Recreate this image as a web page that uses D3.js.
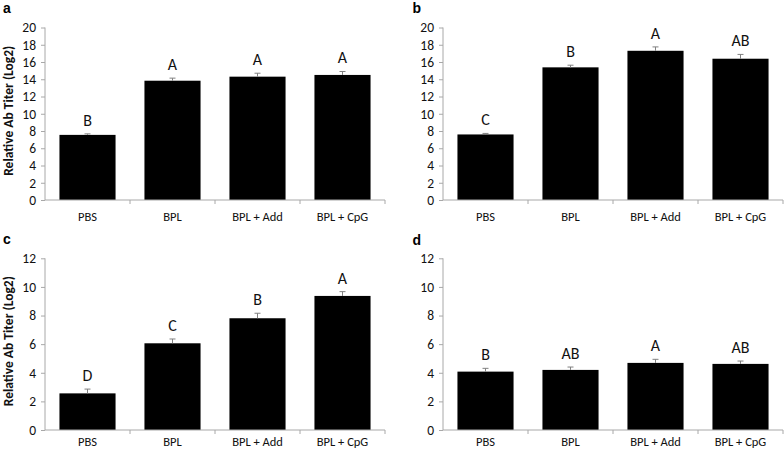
<!DOCTYPE html>
<html>
<head>
<meta charset="utf-8">
<script src="https://cdn.jsdelivr.net/npm/d3@7"></script>
<style>
  html, body { margin: 0; padding: 0; background: #fff; }
  svg { display: block; }
</style>
</head>
<body>
<svg id="chart" width="784" height="454"></svg>
<script>
const categories = ["PBS", "BPL", "BPL + Add", "BPL + CpG"];

const panelNames = ["a", "b", "c", "d"];

const meansA = [7.55, 13.83, 14.3, 14.5];
const errA = [0.12, 0.3, 0.4, 0.4];
const lettersA = ["B", "A", "A", "A"];

const meansB = [7.6, 15.38, 17.3, 16.38];
const errB = [0.12, 0.25, 0.45, 0.5];
const lettersB = ["C", "B", "A", "AB"];

const meansC = [2.56, 6.06, 7.81, 9.37];
const errC = [0.3, 0.3, 0.35, 0.3];
const lettersC = ["D", "C", "B", "A"];

const meansD = [4.08, 4.2, 4.69, 4.62];
const errD = [0.23, 0.2, 0.25, 0.2];
const lettersD = ["B", "AB", "A", "AB"];

const yTicksTop = [0, 2, 4, 6, 8, 10, 12, 14, 16, 18, 20];
const yTicksBottom = [0, 2, 4, 6, 8, 10, 12];

const yTitle = "Relative Ab Titer (Log2)";

const svg = d3.select("#chart");
const FONT = "Carlito, Lato, 'Open Sans', sans-serif";
const AXIS_COLOR = "#a8a8a8";
const ERR_COLOR = "#808080";

const panels = [
  { name: panelNames[0], means: meansA, err: errA, letters: lettersA, ticks: yTicksTop,
    x0: 45, x1: 385, yTop: 27.5, yBot: 200, labelPad: 12, title: true, nameX: 3, nameY: 12.5 },
  { name: panelNames[1], means: meansB, err: errB, letters: lettersB, ticks: yTicksTop,
    x0: 443, x1: 783, yTop: 27.5, yBot: 200, labelPad: 12, title: false, nameX: 412.5, nameY: 13 },
  { name: panelNames[2], means: meansC, err: errC, letters: lettersC, ticks: yTicksBottom,
    x0: 45, x1: 385, yTop: 258.3, yBot: 430, labelPad: 7.5, title: true, nameX: 3, nameY: 244 },
  { name: panelNames[3], means: meansD, err: errD, letters: lettersD, ticks: yTicksBottom,
    x0: 443, x1: 783, yTop: 258.3, yBot: 430, labelPad: 7.5, title: false, nameX: 412.5, nameY: 245 }
];

panels.forEach(p => {
  const g = svg.append("g");
  const x = d3.scaleBand().domain(categories).range([p.x0, p.x1]).padding(0);
  const y = d3.scaleLinear().domain([0, d3.max(p.ticks)]).range([p.yBot, p.yTop]);
  const bw = x.bandwidth();
  const barW = bw * 0.66;

  // bars
  g.selectAll("rect.bar").data(categories).join("rect")
    .attr("x", c => x(c) + (bw - barW) / 2)
    .attr("width", barW)
    .attr("y", (c, i) => y(p.means[i]))
    .attr("height", (c, i) => y(0) - y(p.means[i]))
    .attr("fill", "#000");

  // error bars (upper)
  const eg = g.selectAll("g.err").data(categories).join("g");
  eg.append("line")
    .attr("x1", c => x(c) + bw / 2).attr("x2", c => x(c) + bw / 2)
    .attr("y1", (c, i) => y(p.means[i])).attr("y2", (c, i) => y(p.means[i] + p.err[i]))
    .attr("stroke", ERR_COLOR).attr("stroke-width", 1);
  eg.append("line")
    .attr("x1", c => x(c) + bw / 2 - 3).attr("x2", c => x(c) + bw / 2 + 3)
    .attr("y1", (c, i) => y(p.means[i] + p.err[i])).attr("y2", (c, i) => y(p.means[i] + p.err[i]))
    .attr("stroke", ERR_COLOR).attr("stroke-width", 1);

  // significance letters
  g.selectAll("text.sig").data(categories).join("text")
    .attr("x", c => x(c) + bw / 2)
    .attr("y", (c, i) => y(p.means[i] + p.err[i]) - 8)
    .attr("text-anchor", "middle")
    .attr("font-family", FONT).attr("font-size", 16).attr("fill", "#111")
    .text((c, i) => p.letters[i]);

  // y axis
  const ya = g.append("g").attr("transform", `translate(${p.x0},0)`)
    .call(d3.axisLeft(y).tickValues(p.ticks).tickSize(4).tickPadding(5).tickFormat(d3.format("d")));
  ya.select(".domain").attr("stroke", AXIS_COLOR).attr("d", `M0,${p.yTop}V${p.yBot}`);
  ya.selectAll(".tick line").attr("stroke", AXIS_COLOR);
  ya.selectAll(".tick text").attr("font-family", FONT).attr("font-size", 13.5).attr("fill", "#111");

  // x axis
  const xa = g.append("g").attr("transform", `translate(0,${p.yBot})`)
    .call(d3.axisBottom(x).tickSize(0).tickPadding(p.labelPad));
  xa.select(".domain").attr("stroke", AXIS_COLOR).attr("d", `M${p.x0},0H${p.x1}`);
  xa.selectAll(".tick text").attr("font-family", FONT).attr("font-size", 12.5).attr("fill", "#111");
  // category boundary tick marks
  const bounds = categories.map(c => x(c)).slice(1).concat([p.x1]);
  xa.selectAll("line.bnd").data(bounds).join("line")
    .attr("x1", d => d).attr("x2", d => d).attr("y1", 0).attr("y2", 4)
    .attr("stroke", AXIS_COLOR);

  // y title
  if (p.title) {
    g.append("text")
      .attr("transform", `translate(13,${(p.yTop + p.yBot) / 2 - 3}) rotate(-90)`)
      .attr("text-anchor", "middle")
      .attr("font-family", FONT).attr("font-weight", "bold").attr("font-size", 13.5).attr("fill", "#111")
      .text(yTitle);
  }

  // panel letter
  g.append("text")
    .attr("x", p.nameX).attr("y", p.nameY)
    .attr("font-family", "'Liberation Sans', Arial, sans-serif").attr("font-weight", "bold")
    .attr("font-size", 14).attr("fill", "#000")
    .text(p.name);
});
</script>
</body>
</html>
